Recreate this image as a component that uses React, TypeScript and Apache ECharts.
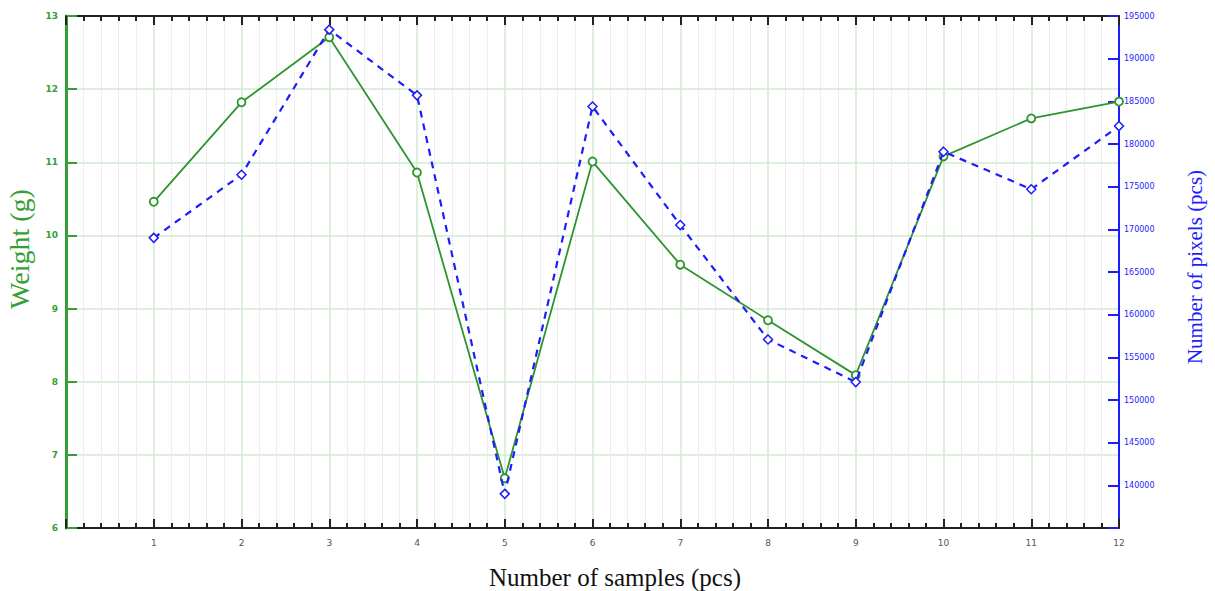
import React, { useEffect, useRef } from "react";
import * as echarts from "echarts";

const samples = [1, 2, 3, 4, 5, 6, 7, 8, 9, 10, 11, 12];
const weights = [10.46, 11.82, 12.71, 10.86, 6.68, 11.01, 9.6, 8.84, 8.09, 11.08, 11.6, 11.83];
const pixels = [169000, 176400, 193400, 185700, 139000, 184400, 170500, 157100, 152100, 179100, 174700, 182100];

const xTitle = "Number of samples (pcs)";
const yLeftTitle = "Weight (g)";
const yRightTitle = "Number of pixels (pcs)";

const GREEN = "#34a034";
const LINE_GREEN = "#2e952e";
const BLUE = "#1c1cff";

export default function App() {
  const ref = useRef<HTMLDivElement>(null);
  useEffect(() => {
    if (!ref.current) return;
    const chart = echarts.init(ref.current, undefined, { renderer: "svg" });
    const xCommon = {
      type: "value" as const,
      min: 0,
      max: 12,
      interval: 1,
    };
    chart.setOption({
      animation: false,
      backgroundColor: "#ffffff",
      grid: { left: 66, right: 96, top: 16, bottom: 63, containLabel: false },
      graphic: [
        {
          type: "text",
          x: 615,
          y: 577,
          style: {
            text: xTitle,
            font: "25px 'Liberation Serif'",
            fill: "#111",
            textAlign: "center",
            textVerticalAlign: "middle",
          },
        },
        {
          type: "text",
          x: 19,
          y: 249,
          rotation: Math.PI / 2,
          style: {
            text: yLeftTitle,
            font: "28px 'Liberation Serif'",
            fill: GREEN,
            textAlign: "center",
            textVerticalAlign: "middle",
          },
        },
        {
          type: "text",
          x: 1195,
          y: 267,
          rotation: Math.PI / 2,
          style: {
            text: yRightTitle,
            font: "21px 'Liberation Serif'",
            fill: BLUE,
            textAlign: "center",
            textVerticalAlign: "middle",
          },
        },
      ],
      xAxis: [
        {
          ...xCommon,
          position: "bottom",
          axisLine: { show: true, onZero: false, lineStyle: { color: "#222", width: 2 } },
          axisTick: { show: true, inside: true, length: 9, lineStyle: { color: "#222", width: 2 } },
          minorTick: { show: true, splitNumber: 5, length: 5, lineStyle: { color: "#222", width: 2 } },
          axisLabel: {
            fontSize: 9,
            color: "#555",
            margin: 10,
            fontFamily: "DejaVu Sans",
            formatter: (v: number) => (v === 0 ? "" : String(v)),
          },
          splitLine: { show: true, lineStyle: { color: "#d3ead3", width: 1.5 } },
          minorSplitLine: { show: true, lineStyle: { color: "#dddddd", type: "dotted", width: 1 } },
        },
        {
          ...xCommon,
          position: "top",
          axisLine: { show: true, onZero: false, lineStyle: { color: "#222", width: 2 } },
          axisTick: { show: true, inside: true, length: 9, lineStyle: { color: "#222", width: 2 } },
          minorTick: { show: true, splitNumber: 5, length: 5, lineStyle: { color: "#222", width: 2 } },
          axisLabel: { show: false },
          splitLine: { show: false },
        },
      ],
      yAxis: [
        {
          type: "value",
          position: "left",
          min: 6,
          max: 13,
          interval: 1,
          axisLine: { show: true, onZero: false, lineStyle: { color: GREEN, width: 3 } },
          axisTick: { show: true, inside: true, length: 11, lineStyle: { color: GREEN, width: 2 } },
          axisLabel: { fontSize: 9, color: GREEN, margin: 8, fontFamily: "DejaVu Sans", fontWeight: "bold" },
          splitLine: { show: true, lineStyle: { color: "#d3ead3", width: 1.5 } },
        },
        {
          type: "value",
          position: "right",
          min: 135000,
          max: 195000,
          interval: 5000,
          axisLine: { show: true, onZero: false, lineStyle: { color: BLUE, width: 2 } },
          axisTick: { show: true, inside: true, length: 11, lineStyle: { color: BLUE, width: 2 } },
          axisLabel: {
            fontSize: 8,
            color: BLUE,
            margin: 5,
            fontFamily: "DejaVu Sans",
            formatter: (v: number) => (v === 135000 ? "" : String(v)),
          },
          splitLine: { show: false },
        },
      ],
      series: [
        {
          name: "Weight",
          type: "line",
          xAxisIndex: 0,
          yAxisIndex: 0,
          data: samples.map((s, i) => [s, weights[i]]),
          symbol: "circle",
          symbolSize: 8,
          lineStyle: { color: LINE_GREEN, width: 1.8 },
          itemStyle: { color: "#ffffff", borderColor: LINE_GREEN, borderWidth: 1.8 },
          z: 3,
        },
        {
          name: "Pixels",
          type: "line",
          xAxisIndex: 0,
          yAxisIndex: 1,
          data: samples.map((s, i) => [s, pixels[i]]),
          symbol: "diamond",
          symbolSize: 9,
          lineStyle: { color: BLUE, width: 2.2, type: [7, 6] },
          itemStyle: { color: "#ffffff", borderColor: BLUE, borderWidth: 1.5 },
          z: 4,
        },
      ],
    });
    return () => chart.dispose();
  }, []);
  return (
    <div
      ref={ref}
      style={{ position: "fixed", left: 0, top: 0, width: 1215, height: 591, background: "#fff" }}
    />
  );
}
